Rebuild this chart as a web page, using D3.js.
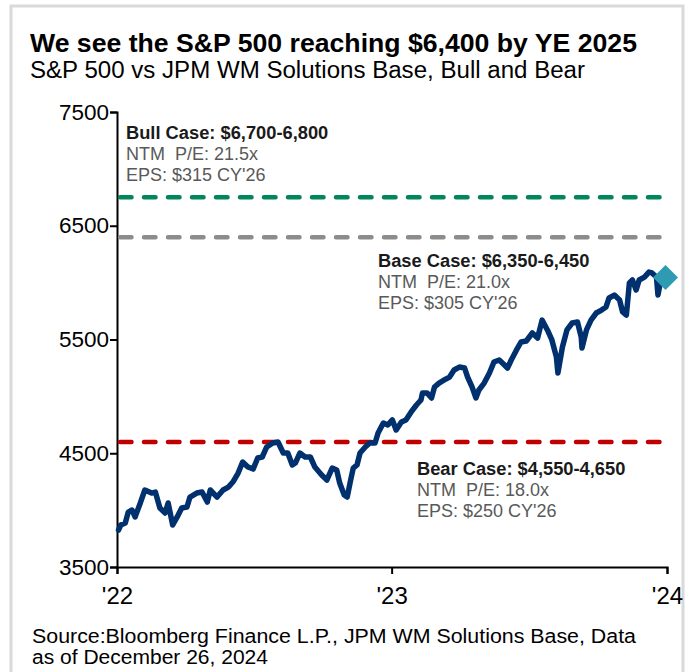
<!DOCTYPE html>
<html>
<head>
<meta charset="utf-8">
<script src="https://cdn.jsdelivr.net/npm/d3@7"></script>
<style>
html,body{margin:0;padding:0;background:#fff;}
svg{display:block;font-family:"Liberation Sans",Arial,sans-serif;}
</style>
</head>
<body>
<svg id="chart" width="693" height="672"></svg>
<script>
// ---------- DATA ----------
const title = "We see the S&P 500 reaching $6,400 by YE 2025";
const subtitle = "S&P 500 vs JPM WM Solutions Base, Bull and Bear";
const sourceLines = ["Source:Bloomberg Finance L.P., JPM WM Solutions Base, Data", "as of December 26, 2024"];

const yTicks = [3500, 4500, 5500, 6500, 7500];
const xTickDates = ["2023-01-01", "2024-01-01", "2025-01-01"];
const xTickLabels = ["'22", "'23", "'24"];

const dates = [
 "2023-01-03","2023-01-06","2023-01-12","2023-01-16","2023-01-21","2023-01-25","2023-02-01","2023-02-07",
 "2023-02-16","2023-02-21","2023-02-27","2023-03-06","2023-03-10","2023-03-16","2023-03-22","2023-03-28",
 "2023-04-04","2023-04-08","2023-04-17","2023-04-24","2023-05-01","2023-05-05","2023-05-14","2023-05-22",
 "2023-05-29","2023-06-04","2023-06-11","2023-06-17","2023-06-24","2023-07-01","2023-07-07","2023-07-13",
 "2023-07-19","2023-07-27","2023-08-03","2023-08-10","2023-08-16","2023-08-22","2023-08-26","2023-09-01",
 "2023-09-08","2023-09-15","2023-09-21","2023-09-30","2023-10-07","2023-10-14","2023-10-20","2023-10-24",
 "2023-10-30","2023-11-03","2023-11-07","2023-11-11","2023-11-16","2023-11-20","2023-11-27","2023-12-03",
 "2023-12-10","2023-12-14","2023-12-21","2023-12-27","2024-01-02","2024-01-07","2024-01-14","2024-01-20",
 "2024-01-27","2024-02-03","2024-02-09","2024-02-11","2024-02-17","2024-02-23","2024-02-27","2024-03-04",
 "2024-03-11","2024-03-18","2024-03-24","2024-03-31","2024-04-07","2024-04-11","2024-04-17","2024-04-22",
 "2024-04-26","2024-05-03","2024-05-10","2024-05-16","2024-05-23","2024-05-30","2024-06-03","2024-06-08",
 "2024-06-15","2024-06-21","2024-06-28","2024-07-06","2024-07-13","2024-07-19","2024-07-26","2024-08-01",
 "2024-08-07","2024-08-09","2024-08-15","2024-08-21","2024-08-28","2024-09-04","2024-09-09","2024-09-10",
 "2024-09-16","2024-09-22","2024-09-29","2024-10-06","2024-10-12","2024-10-16","2024-10-23","2024-10-30",
 "2024-11-03","2024-11-08","2024-11-12","2024-11-16","2024-11-21","2024-11-25","2024-12-02","2024-12-08",
 "2024-12-12","2024-12-18","2024-12-20","2024-12-22","2024-12-26"
];
const spx = [
 3825,3869,3887,3983,4001,3940,4063,4177,
 4150,4159,4019,3975,4063,3869,3940,4019,
 4027,4115,4150,4159,4071,4177,4115,4177,
 4203,4247,4326,4423,4379,4361,4458,4467,
 4555,4590,4599,4502,4502,4397,4414,4502,
 4467,4467,4379,4309,4265,4370,4353,4238,
 4133,4115,4247,4370,4397,4502,4555,4590,
 4590,4678,4766,4749,4793,4705,4775,4793,
 4863,4924,4968,5030,5030,4986,5082,5117,
 5144,5170,5232,5258,5249,5170,5082,4986,
 5056,5117,5205,5302,5320,5276,5249,5320,
 5408,5478,5487,5557,5513,5671,5584,5496,
 5346,5205,5434,5584,5645,5654,5522,5425,
 5584,5671,5733,5759,5786,5865,5891,5847,
 5742,5715,5997,6023,5935,6023,6049,6093,
 6085,6049,5891,5962,6040
];
const markerDate = "2024-12-30";
const markerValue = 6045;

const scenarioValues = [6750, 6400, 4600];
const scenarioTitles = ["Bull Case: $6,700-6,800", "Base Case: $6,350-6,450", "Bear Case: $4,550-4,650"];
const scenarioPE = ["NTM  P/E: 21.5x", "NTM  P/E: 21.0x", "NTM  P/E: 18.0x"];
const scenarioEPS = ["EPS: $315 CY'26", "EPS: $305 CY'26", "EPS: $250 CY'26"];

// ---------- STYLE / LAYOUT ----------
const scenarioColors = ["#00865a", "#8c8c8c", "#c00000"];
const labelPos = [[126, 139], [378, 267], [417, 475]];
const lineColor = "#00306e";
const markerColor = "#2e9bb3";

const svg = d3.select("#chart");
const parse = d3.timeParse("%Y-%m-%d");

// frame
svg.append("rect").attr("x", 11).attr("y", 6).attr("width", 672).attr("height", 680)
  .attr("fill", "none").attr("stroke", "#d9d9d9").attr("stroke-width", 3);

// titles
svg.append("text").attr("x", 30).attr("y", 52).attr("font-size", 26).attr("font-weight", "bold")
  .attr("fill", "#000").attr("textLength", 607).attr("lengthAdjust", "spacingAndGlyphs").text(title);
svg.append("text").attr("x", 30).attr("y", 78).attr("font-size", 23.5).attr("fill", "#000")
  .attr("textLength", 555).attr("lengthAdjust", "spacingAndGlyphs").text(subtitle);

const x = d3.scaleTime().domain([parse("2023-01-01"), parse("2025-01-01")]).range([117, 667]);
const y = d3.scaleLinear().domain([3500, 7500]).range([567, 112]);

// y axis
const yAxis = svg.append("g").attr("transform", "translate(117,0)")
  .call(d3.axisLeft(y).tickValues(yTicks).tickSize(7).tickPadding(1).tickFormat(d3.format("d")));
yAxis.select(".domain").attr("stroke", "#000").attr("stroke-width", 2);
yAxis.selectAll(".tick line").attr("stroke", "#000").attr("stroke-width", 2);
yAxis.selectAll(".tick text").attr("font-size", 22.5).attr("fill", "#000")
  .attr("font-family", "Liberation Sans, Arial, sans-serif");

// x axis
const xAxis = svg.append("g").attr("transform", "translate(0,567)")
  .call(d3.axisBottom(x).tickValues(xTickDates.map(parse)).tickSize(7).tickPadding(13)
    .tickFormat((d, i) => xTickLabels[i]));
xAxis.select(".domain").attr("stroke", "#000").attr("stroke-width", 2);
xAxis.selectAll(".tick line").attr("stroke", "#000").attr("stroke-width", 2);
xAxis.selectAll(".tick text").attr("font-size", 24).attr("fill", "#000")
  .attr("font-family", "Liberation Sans, Arial, sans-serif");

// scenario lines
svg.append("g").selectAll("line").data(scenarioValues).join("line")
  .attr("x1", x(parse("2023-01-01")) + 3).attr("x2", x(parse("2025-01-01")) - 2)
  .attr("y1", d => y(d)).attr("y2", d => y(d))
  .attr("stroke", (d, i) => scenarioColors[i]).attr("stroke-width", 4.5)
  .attr("stroke-dasharray", "11.5,12.5").attr("stroke-linecap", "round");

// S&P line
const series = dates.map((d, i) => ({date: parse(d), value: spx[i]}));
svg.append("path").datum(series)
  .attr("d", d3.line().x(d => x(d.date)).y(d => y(d.value)))
  .attr("fill", "none").attr("stroke", lineColor).attr("stroke-width", 5.5)
  .attr("stroke-linejoin", "round").attr("stroke-linecap", "round");

// marker
svg.append("path").attr("d", d3.symbol(d3.symbolSquare, 312)())
  .attr("transform", `translate(${x(parse(markerDate))},${y(markerValue)}) rotate(45)`)
  .attr("fill", markerColor);

// annotations
scenarioValues.forEach((v, i) => {
  const [lx, ly] = labelPos[i];
  const g = svg.append("g");
  g.append("text").attr("x", lx).attr("y", ly).attr("font-size", 18.3).attr("font-weight", "bold")
    .attr("fill", "#1a1a1a").text(scenarioTitles[i]);
  g.append("text").attr("x", lx).attr("y", ly + 21).attr("font-size", 18).attr("fill", "#595959")
    .attr("xml:space", "preserve").style("white-space", "pre").text(scenarioPE[i]);
  g.append("text").attr("x", lx).attr("y", ly + 42).attr("font-size", 18).attr("fill", "#595959")
    .text(scenarioEPS[i]);
});

// source
const srcWidths = [604, 236];
sourceLines.forEach((s, i) => {
  svg.append("text").attr("x", 32).attr("y", 643 + i * 21).attr("font-size", 20).attr("fill", "#000")
    .attr("textLength", srcWidths[i]).attr("lengthAdjust", "spacingAndGlyphs").text(s);
});
</script>
</body>
</html>
